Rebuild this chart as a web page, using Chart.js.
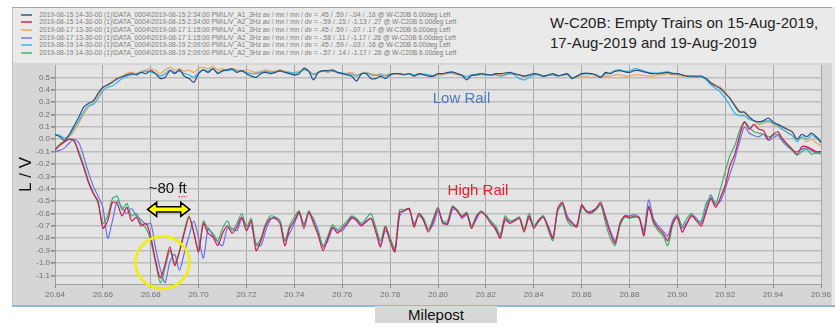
<!DOCTYPE html>
<html>
<head>
<meta charset="utf-8">
<script src="https://cdn.jsdelivr.net/npm/chart.js@4.4.1/dist/chart.umd.min.js"></script>
<style>
body{margin:0;background:#fff;width:835px;height:327px;overflow:hidden;position:relative;font-family:"Liberation Sans",Arial,sans-serif}
#panel{position:absolute;left:12px;top:7px;width:820px;height:299px;background:#d6d6d6;border-top:1px solid #a4a4a4;border-left:1px solid #b9c3cf;box-sizing:border-box}
#edge{position:absolute;left:832px;top:7px;width:3px;height:299px;background:#e9e9e9}
#head{position:absolute;left:13px;top:8px;width:822px;height:55px;background:#eaeaea}
#legend{position:absolute;left:7.7px;top:0}
.row{position:absolute;left:0;height:8px;white-space:nowrap;font-size:6.7px;line-height:8px;color:#7d7d7d}
.row i{position:absolute;left:0;top:3px;width:11px;height:2px;opacity:.7}
.row span{position:absolute;left:18.6px;top:0}
#title{position:absolute;left:537px;top:5px;font-size:15px;line-height:20px;color:#222;white-space:nowrap}
#chart{position:absolute;left:0;top:0}
#blue{position:absolute;left:12px;top:305px;width:823px;height:2px;background:#8fb7e2}
#xtitle{position:absolute;left:375px;top:306px;width:122px;height:17px;background:#d8d8d8;font-size:15px;line-height:17px;text-align:center;color:#111}
</style>
</head>
<body>
<div id="panel"></div>
<div id="edge"></div>
<div id="head">
  <div id="legend"></div>
  <div id="title">W-C20B: Empty Trains on 15-Aug-2019,<br>17-Aug-2019 and 19-Aug-2019</div>
</div>
<canvas id="chart" width="835" height="327"></canvas>
<div id="blue"></div>
<div id="xtitle">Milepost</div>
<script>
// milepost positions (x)
const milepost = [
  20.640,20.642,20.644,20.646,20.648,20.650,20.652,20.654,20.656,20.658,
  20.660,20.662,20.664,20.666,20.668,20.670,20.672,20.674,20.676,20.678,
  20.680,20.682,20.684,20.686,20.688,20.690,20.692,20.694,20.696,20.698,
  20.700,20.702,20.704,20.706,20.708,20.710,20.712,20.714,20.716,20.718,
  20.720,20.722,20.724,20.726,20.728,20.730,20.732,20.734,20.736,20.738,
  20.740,20.742,20.744,20.746,20.748,20.750,20.752,20.754,20.756,20.758,
  20.760,20.762,20.764,20.766,20.768,20.770,20.772,20.774,20.776,20.778,
  20.780,20.782,20.784,20.786,20.788,20.790,20.792,20.794,20.796,20.798,
  20.800,20.802,20.804,20.806,20.808,20.810,20.812,20.814,20.816,20.818,
  20.820,20.822,20.824,20.826,20.828,20.830,20.832,20.834,20.836,20.838,
  20.840,20.842,20.844,20.846,20.848,20.850,20.852,20.854,20.856,20.858,
  20.860,20.862,20.864,20.866,20.868,20.870,20.872,20.874,20.876,20.878,
  20.880,20.882,20.884,20.886,20.888,20.890,20.892,20.894,20.896,20.898,
  20.900,20.902,20.904,20.906,20.908,20.910,20.912,20.914,20.916,20.918,
  20.920,20.922,20.924,20.926,20.928,20.930,20.932,20.934,20.936,20.938,
  20.940,20.942,20.944,20.946,20.948,20.950,20.952,20.954,20.956,20.958,
  20.960
];

// A1 = low rail
const low15 = [
  0.04,0.02,-0.01,0.04,0.11,0.18,0.26,0.29,0.31,0.37,
  0.42,0.44,0.46,0.49,0.505,0.52,0.53,0.52,0.54,0.53,
  0.555,0.53,0.49,0.50,0.555,0.53,0.56,0.51,0.49,0.46,
  0.53,0.56,0.54,0.57,0.53,0.555,0.56,0.57,0.54,0.555,
  0.53,0.51,0.50,0.53,0.54,0.53,0.54,0.555,0.54,0.53,
  0.52,0.53,0.575,0.55,0.48,0.54,0.555,0.555,0.56,0.54,
  0.53,0.52,0.51,0.47,0.53,0.53,0.49,0.49,0.51,0.49,
  0.52,0.53,0.53,0.52,0.53,0.51,0.53,0.52,0.51,0.51,
  0.53,0.53,0.54,0.545,0.53,0.515,0.48,0.515,0.52,0.53,
  0.525,0.52,0.53,0.53,0.535,0.54,0.53,0.52,0.51,0.52,
  0.53,0.525,0.51,0.52,0.53,0.515,0.52,0.53,0.49,0.51,
  0.53,0.535,0.53,0.52,0.50,0.54,0.53,0.55,0.555,0.545,
  0.54,0.555,0.555,0.545,0.535,0.53,0.53,0.535,0.54,0.53,
  0.53,0.52,0.51,0.51,0.51,0.51,0.49,0.455,0.43,0.41,
  0.37,0.33,0.27,0.22,0.22,0.18,0.15,0.14,0.15,0.17,
  0.14,0.12,0.10,0.08,0.06,0.00,0.04,0.02,0.05,0.02,
  -0.02
];
const low17 = [
  -0.07,-0.05,-0.02,0.02,0.07,0.13,0.20,0.26,0.30,0.35,
  0.41,0.44,0.47,0.49,0.51,0.53,0.54,0.53,0.55,0.56,
  0.57,0.555,0.53,0.56,0.58,0.56,0.57,0.55,0.56,0.54,
  0.57,0.58,0.57,0.59,0.56,0.57,0.56,0.57,0.56,0.555,
  0.56,0.55,0.54,0.55,0.56,0.55,0.55,0.56,0.55,0.54,
  0.54,0.55,0.56,0.55,0.53,0.54,0.55,0.54,0.55,0.54,
  0.53,0.53,0.54,0.52,0.53,0.54,0.53,0.52,0.53,0.52,
  0.53,0.53,0.52,0.525,0.53,0.52,0.52,0.53,0.52,0.51,
  0.52,0.52,0.53,0.53,0.52,0.52,0.51,0.52,0.515,0.52,
  0.52,0.515,0.52,0.52,0.52,0.53,0.52,0.52,0.51,0.515,
  0.52,0.52,0.51,0.515,0.52,0.51,0.515,0.52,0.50,0.50,
  0.51,0.51,0.50,0.51,0.50,0.51,0.51,0.52,0.52,0.51,
  0.51,0.52,0.52,0.515,0.51,0.51,0.52,0.52,0.53,0.52,
  0.52,0.51,0.505,0.50,0.50,0.50,0.49,0.46,0.44,0.42,
  0.38,0.33,0.28,0.23,0.21,0.18,0.15,0.12,0.13,0.14,
  0.12,0.10,0.08,0.06,0.03,0.00,0.01,-0.02,0.00,-0.03,
  -0.05
];
const low19 = [
  0.04,0.03,0.01,0.03,0.09,0.15,0.22,0.27,0.28,0.33,
  0.39,0.42,0.43,0.46,0.49,0.51,0.52,0.53,0.54,0.55,
  0.545,0.53,0.51,0.53,0.56,0.54,0.55,0.53,0.52,0.50,
  0.54,0.56,0.55,0.57,0.54,0.55,0.555,0.56,0.55,0.55,
  0.54,0.53,0.53,0.54,0.55,0.54,0.545,0.55,0.545,0.54,
  0.535,0.54,0.56,0.55,0.52,0.54,0.55,0.545,0.55,0.54,
  0.535,0.53,0.525,0.51,0.53,0.535,0.52,0.515,0.52,0.51,
  0.525,0.53,0.53,0.525,0.53,0.52,0.53,0.525,0.52,0.515,
  0.53,0.53,0.535,0.54,0.53,0.52,0.50,0.52,0.525,0.53,
  0.52,0.515,0.52,0.51,0.52,0.53,0.52,0.49,0.48,0.50,
  0.52,0.52,0.505,0.515,0.52,0.51,0.52,0.525,0.50,0.51,
  0.525,0.53,0.525,0.52,0.505,0.53,0.535,0.555,0.56,0.55,
  0.55,0.57,0.565,0.55,0.54,0.535,0.535,0.54,0.545,0.535,
  0.53,0.52,0.51,0.505,0.50,0.505,0.48,0.44,0.41,0.38,
  0.33,0.27,0.21,0.19,0.19,0.16,0.15,0.14,0.14,0.15,
  0.13,0.11,0.08,0.05,0.03,-0.02,0.02,0.00,0.03,0.01,
  -0.03
];

// A2 = high rail
const high15 = [
  -0.09,-0.05,-0.02,0.00,-0.01,-0.12,-0.23,-0.35,-0.44,-0.50,
  -0.72,-0.66,-0.51,-0.52,-0.62,-0.55,-0.66,-0.63,-0.70,-0.68,
  -0.79,-0.98,-1.12,-1.01,-0.87,-1.02,-0.91,-0.76,-0.63,-0.76,
  -0.91,-0.68,-0.76,-0.79,-0.86,-0.76,-0.70,-0.76,-0.71,-0.63,
  -0.74,-0.66,-0.90,-0.82,-0.70,-0.64,-0.64,-0.68,-0.86,-0.72,
  -0.66,-0.59,-0.72,-0.59,-0.68,-0.78,-0.90,-0.80,-0.71,-0.76,
  -0.72,-0.68,-0.63,-0.66,-0.70,-0.66,-0.64,-0.75,-0.87,-0.71,
  -0.83,-0.91,-0.59,-0.58,-0.56,-0.71,-0.60,-0.66,-0.75,-0.66,
  -0.56,-0.68,-0.68,-0.55,-0.58,-0.63,-0.60,-0.72,-0.63,-0.59,
  -0.62,-0.68,-0.72,-0.80,-0.64,-0.68,-0.66,-0.64,-0.75,-0.62,
  -0.72,-0.66,-0.63,-0.71,-0.80,-0.56,-0.51,-0.64,-0.68,-0.71,
  -0.53,-0.58,-0.59,-0.56,-0.51,-0.64,-0.76,-0.84,-0.68,-0.62,
  -0.63,-0.63,-0.63,-0.78,-0.55,-0.66,-0.72,-0.76,-0.82,-0.68,
  -0.63,-0.75,-0.68,-0.62,-0.66,-0.70,-0.59,-0.48,-0.55,-0.47,
  -0.37,-0.21,-0.12,0.03,0.14,0.08,0.12,0.08,0.07,0.00,
  0.04,0.06,0.00,-0.04,-0.08,-0.12,-0.06,-0.06,-0.08,-0.10,
  -0.10
];
const high17 = [
  -0.10,-0.09,-0.07,-0.03,0.00,-0.03,-0.14,-0.27,-0.38,-0.46,
  -0.55,-0.80,-0.66,-0.50,-0.55,-0.60,-0.56,-0.62,-0.65,-0.69,
  -0.68,-0.88,-1.05,-1.16,-0.99,-0.93,-1.06,-0.92,-0.78,-0.66,
  -0.80,-0.96,-0.72,-0.78,-0.83,-0.86,-0.72,-0.72,-0.74,-0.64,
  -0.70,-0.70,-0.84,-0.86,-0.74,-0.65,-0.63,-0.66,-0.82,-0.76,
  -0.68,-0.60,-0.68,-0.60,-0.64,-0.74,-0.87,-0.82,-0.72,-0.74,
  -0.74,-0.69,-0.64,-0.65,-0.69,-0.67,-0.64,-0.72,-0.85,-0.74,
  -0.80,-0.90,-0.62,-0.57,-0.57,-0.68,-0.62,-0.65,-0.73,-0.69,
  -0.58,-0.66,-0.69,-0.57,-0.57,-0.64,-0.61,-0.70,-0.65,-0.58,
  -0.62,-0.66,-0.73,-0.79,-0.66,-0.67,-0.65,-0.63,-0.73,-0.64,
  -0.70,-0.67,-0.62,-0.70,-0.79,-0.58,-0.52,-0.62,-0.67,-0.70,
  -0.55,-0.58,-0.58,-0.56,-0.53,-0.62,-0.74,-0.82,-0.70,-0.62,
  -0.62,-0.61,-0.63,-0.74,-0.49,-0.64,-0.70,-0.74,-0.78,-0.66,
  -0.61,-0.72,-0.67,-0.61,-0.64,-0.68,-0.56,-0.45,-0.53,-0.50,
  -0.40,-0.28,-0.16,-0.02,0.10,0.05,0.03,0.02,0.04,-0.01,
  0.01,0.03,-0.02,-0.06,-0.09,-0.10,-0.08,-0.07,-0.09,-0.11,
  -0.10
];
const high19 = [
  -0.08,-0.04,-0.01,0.00,-0.02,-0.10,-0.21,-0.34,-0.43,-0.52,
  -0.68,-0.62,-0.48,-0.46,-0.57,-0.52,-0.62,-0.60,-0.68,-0.72,
  -0.82,-1.00,-1.16,-1.04,-0.90,-1.00,-0.90,-0.74,-0.62,-0.75,
  -0.90,-0.66,-0.73,-0.76,-0.82,-0.72,-0.66,-0.74,-0.68,-0.60,
  -0.71,-0.64,-0.86,-0.80,-0.68,-0.62,-0.63,-0.66,-0.82,-0.70,
  -0.63,-0.58,-0.70,-0.58,-0.66,-0.76,-0.86,-0.78,-0.69,-0.73,
  -0.70,-0.66,-0.62,-0.64,-0.68,-0.64,-0.60,-0.71,-0.82,-0.70,
  -0.80,-0.88,-0.57,-0.57,-0.56,-0.70,-0.60,-0.64,-0.73,-0.64,
  -0.55,-0.67,-0.66,-0.54,-0.57,-0.62,-0.59,-0.70,-0.62,-0.58,
  -0.61,-0.66,-0.70,-0.77,-0.62,-0.66,-0.65,-0.63,-0.73,-0.60,
  -0.70,-0.65,-0.62,-0.73,-0.82,-0.58,-0.53,-0.66,-0.70,-0.69,
  -0.54,-0.59,-0.60,-0.57,-0.53,-0.68,-0.80,-0.86,-0.70,-0.63,
  -0.64,-0.62,-0.64,-0.76,-0.54,-0.68,-0.74,-0.78,-0.86,-0.70,
  -0.62,-0.70,-0.64,-0.60,-0.66,-0.66,-0.52,-0.47,-0.52,-0.40,
  -0.26,-0.13,-0.05,0.07,0.14,0.10,0.06,0.05,0.04,0.02,
  0.03,0.04,0.00,-0.05,-0.09,-0.13,-0.10,-0.08,-0.12,-0.11,
  -0.12
];

const seriesNames = [
  '2019-08-15 14-30-00 (1)\\DATA_0004\\2019-08-15 2:34:00 PM\\L/V_A1_3Hz av / mx / mn / dv = .45 / .59 / -.04 / .16 @ W-C20B 6.00deg Left',
  '2019-08-15 14-30-00 (1)\\DATA_0004\\2019-08-15 2:34:00 PM\\L/V_A2_3Hz av / mx / mn / dv = -.59 / .15 / -1.13 / .27 @ W-C20B 6.00deg Left',
  '2019-08-17 13-30-00 (1)\\DATA_0004\\2019-08-17 1:15:00 PM\\L/V_A1_3Hz av / mx / mn / dv = .45 / .59 / -.07 / .17 @ W-C20B 6.00deg Left',
  '2019-08-17 13-30-00 (1)\\DATA_0004\\2019-08-17 1:15:00 PM\\L/V_A2_3Hz av / mx / mn / dv = -.58 / .11 / -1.17 / .26 @ W-C20B 6.00deg Left',
  '2019-08-19 14-30-00 (1)\\DATA_0004\\2019-08-19 2:09:00 PM\\L/V_A1_3Hz av / mx / mn / dv = .45 / .59 / -.03 / .16 @ W-C20B 6.00deg Left',
  '2019-08-19 14-30-00 (1)\\DATA_0004\\2019-08-19 2:09:00 PM\\L/V_A2_3Hz av / mx / mn / dv = -.57 / .14 / -1.17 / .26 @ W-C20B 6.00deg Left'
];
const seriesValues = [low15, high15, low17, high17, low19, high19];
const seriesColors = ['#2f4d74', '#d3184f', '#f2a45c', '#6a72e4', '#2db6ea', '#34b46a'];
const drawOrder = [1, 0, 5, 3, 4, 2];

const xTicks = [20.64,20.66,20.68,20.70,20.72,20.74,20.76,20.78,20.80,20.82,20.84,20.86,20.88,20.90,20.92,20.94,20.96];
const yTicks = [-1.1,-1.0,-0.9,-0.8,-0.7,-0.6,-0.5,-0.4,-0.3,-0.2,-0.1,0.0,0.1,0.2,0.3,0.4,0.5];

/* legend */
const legend = document.getElementById('legend');
seriesNames.forEach((name, i) => {
    const row = document.createElement('div');
    row.className = 'row';
    row.style.top = (2.7 + i * 7.66) + 'px';
    row.innerHTML = '<i style="background:' + seriesColors[i] + '"></i><span></span>';
    row.querySelector('span').textContent = name;
    legend.appendChild(row);
});

/* plot background */
const plotBg = {
    id: 'plotBg',
    beforeDraw(chart) {
        const { ctx, chartArea: a } = chart;
        ctx.save();
        ctx.fillStyle = '#e4e4e4';
        ctx.fillRect(a.left, a.top, a.right - a.left, a.bottom - a.top);
        ctx.restore();
    }
};

/* notes: labels, arrow, circle */
const notes = {
    id: 'notes',
    afterDatasetsDraw(chart) {
        const { ctx, scales: { x, y } } = chart;
        ctx.save();
        ctx.font = '15px "Liberation Sans", Arial, sans-serif';
        ctx.textBaseline = 'middle';
        ctx.textAlign = 'left';
        ctx.fillStyle = '#4b79bb';
        ctx.fillText('Low Rail', x.getPixelForValue(20.7978), y.getPixelForValue(0.33));
        ctx.fillStyle = '#e3202b';
        ctx.fillText('High Rail', x.getPixelForValue(20.804), y.getPixelForValue(-0.42));

        // ~80 ft
        ctx.fillStyle = '#111';
        ctx.textAlign = 'center';
        const tx = x.getPixelForValue(20.6871), ty = y.getPixelForValue(-0.40);
        ctx.fillText('~80 ft', tx, ty);
        const w = ctx.measureText('~80 ft').width;
        const fw = ctx.measureText('ft').width;
        ctx.strokeStyle = '#e03030';
        ctx.lineWidth = 1;
        ctx.setLineDash([1.5, 1]);
        ctx.beginPath();
        ctx.moveTo(tx + w / 2 - fw, ty + 8);
        ctx.lineTo(tx + w / 2, ty + 8);
        ctx.stroke();
        ctx.setLineDash([]);

        // double arrow
        const x1 = x.getPixelForValue(20.6787), x2 = x.getPixelForValue(20.6963);
        const ay = y.getPixelForValue(-0.567);
        const sh = 2.6, hh = 7, hl = 9;
        ctx.beginPath();
        ctx.moveTo(x1, ay);
        ctx.lineTo(x1 + hl, ay - hh);
        ctx.lineTo(x1 + hl, ay - sh);
        ctx.lineTo(x2 - hl, ay - sh);
        ctx.lineTo(x2 - hl, ay - hh);
        ctx.lineTo(x2, ay);
        ctx.lineTo(x2 - hl, ay + hh);
        ctx.lineTo(x2 - hl, ay + sh);
        ctx.lineTo(x1 + hl, ay + sh);
        ctx.lineTo(x1 + hl, ay + hh);
        ctx.closePath();
        ctx.fillStyle = '#ffff00';
        ctx.fill();
        ctx.strokeStyle = '#000';
        ctx.lineWidth = 1.6;
        ctx.stroke();

        // circle
        ctx.beginPath();
        ctx.ellipse(x.getPixelForValue(20.6849), y.getPixelForValue(-0.997), 27, 26, 0, 0, Math.PI * 2);
        ctx.strokeStyle = '#f0f000';
        ctx.lineWidth = 2.5;
        ctx.stroke();
        ctx.restore();
    }
};

const tickFont = { family: '"Liberation Sans", Arial, sans-serif', size: 8 };

new Chart(document.getElementById('chart'), {
    type: 'line',
    data: {
        datasets: seriesValues.map((vals, i) => ({
            label: seriesNames[i],
            data: milepost.map((m, j) => ({ x: m, y: vals[j] })),
            borderColor: seriesColors[i],
            borderWidth: 1.2,
            pointRadius: 0,
            tension: 0.25,
            fill: false,
            order: drawOrder[i]
        }))
    },
    options: {
        responsive: false,
        animation: false,
        events: [],
        layout: { padding: { left: 12, right: 14, top: 65, bottom: 21 } },
        plugins: { legend: { display: false }, tooltip: { enabled: false } },
        scales: {
            x: {
                type: 'linear',
                min: 20.64,
                max: 20.96,
                afterBuildTicks: s => { s.ticks = xTicks.map(v => ({ value: v })); },
                afterFit: s => { s.height = 22; },
                grid: { color: '#a7a7a7', lineWidth: 1, tickLength: 4, tickColor: '#888' },
                border: { color: '#a0a0a0' },
                ticks: { font: tickFont, color: '#6e6e6e', padding: 2, maxRotation: 0, callback: v => v.toFixed(2) }
            },
            y: {
                min: -1.17,
                max: 0.6,
                afterBuildTicks: s => { s.ticks = yTicks.map(v => ({ value: v })); },
                afterFit: s => { s.width = 43; },
                grid: { color: '#bdbdbd', lineWidth: 1.6, tickLength: 4, tickColor: '#888' },
                border: { color: '#a0a0a0' },
                ticks: { font: tickFont, color: '#6e6e6e', padding: 1, callback: v => v.toFixed(1) },
                title: { display: true, text: 'L / V', color: '#111', font: { family: '"Liberation Sans", Arial, sans-serif', size: 17 }, padding: { top: 4, bottom: 0 } }
            }
        }
    },
    plugins: [plotBg, notes]
});
</script>
</body>
</html>
